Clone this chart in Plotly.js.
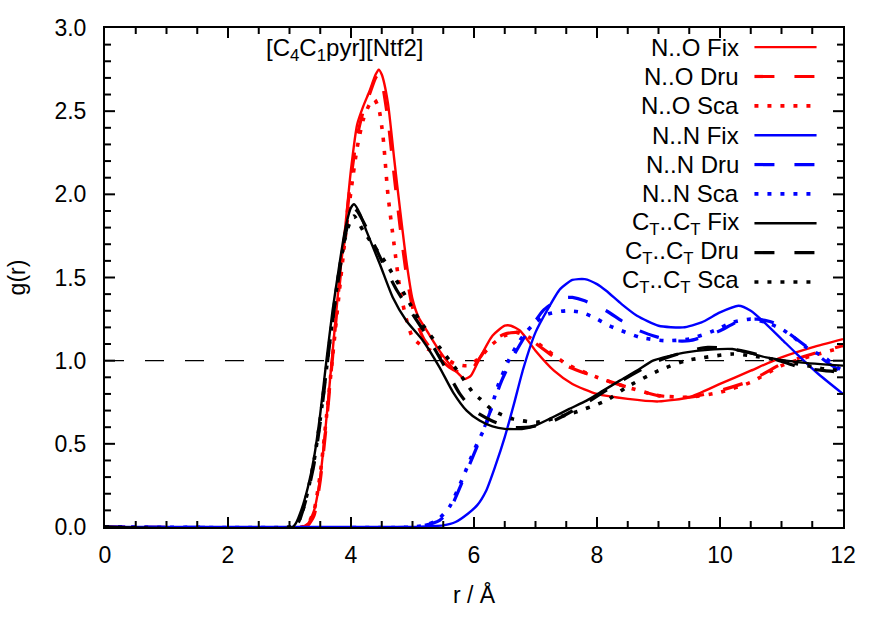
<!DOCTYPE html>
<html>
<head>
<meta charset="utf-8">
<script src="https://cdn.plot.ly/plotly-3.0.1.min.js"></script>
<style>
  html, body { margin: 0; padding: 0; background: #fff; }
  #chart { width: 886px; height: 620px; }
</style>
</head>
<body>
<div id="chart"></div>
<script>
// Radial distribution functions g(r) for [C4C1pyr][Ntf2], three models each.

// N..O pairs
const r_NO_fix = [0, 3.2, 3.3, 3.4, 3.5, 3.6, 3.7, 3.8, 3.9, 4.0, 4.1, 4.2, 4.3, 4.4, 4.45, 4.5, 4.6, 4.7, 4.8, 4.9, 5.0, 5.1, 5.2, 5.4, 5.6, 5.75, 5.85, 5.95, 6.1, 6.3, 6.5, 6.6, 6.75, 7.0, 7.3, 7.6, 8.0, 8.5, 9.0, 9.5, 10.0, 10.5, 11.0, 11.5, 12.0];
const g_NO_fix = [0, 0, 0.02, 0.1, 0.3, 0.65, 1.05, 1.45, 1.78, 2.15, 2.42, 2.53, 2.62, 2.72, 2.75, 2.72, 2.55, 2.22, 1.9, 1.6, 1.37, 1.26, 1.2, 1.08, 0.98, 0.92, 0.89, 0.91, 1.02, 1.15, 1.21, 1.21, 1.18, 1.06, 0.94, 0.86, 0.8, 0.77, 0.755, 0.78, 0.86, 0.94, 1.02, 1.08, 1.13];

const r_NO_dru = [0, 3.2, 3.3, 3.4, 3.5, 3.6, 3.7, 3.8, 3.9, 4.0, 4.1, 4.2, 4.3, 4.4, 4.45, 4.5, 4.6, 4.7, 4.8, 4.9, 5.0, 5.1, 5.2, 5.4, 5.6, 5.75, 5.85, 5.95, 6.1, 6.3, 6.5, 6.7, 6.9, 7.2, 7.5, 8.0, 8.5, 9.0, 9.5, 10.0, 10.5, 11.0, 11.5, 12.0];
const g_NO_dru = [0, 0, 0.01, 0.07, 0.28, 0.62, 1.02, 1.42, 1.76, 2.1, 2.35, 2.5, 2.6, 2.7, 2.72, 2.68, 2.45, 2.12, 1.8, 1.52, 1.32, 1.2, 1.12, 1.03, 0.96, 0.93, 0.92, 0.94, 1.02, 1.12, 1.16, 1.17, 1.13, 1.05, 0.97, 0.9, 0.84, 0.79, 0.78, 0.82, 0.88, 0.98, 1.04, 1.09];

const r_NO_sca = [0, 3.2, 3.3, 3.4, 3.5, 3.6, 3.7, 3.8, 3.9, 4.0, 4.1, 4.2, 4.3, 4.38, 4.45, 4.52, 4.6, 4.7, 4.8, 4.9, 5.0, 5.15, 5.3, 5.5, 5.7, 5.9, 6.1, 6.3, 6.5, 6.7, 6.9, 7.2, 7.5, 8.0, 8.5, 9.0, 9.5, 10.0, 10.5, 11.0, 11.5, 12.0];
const g_NO_sca = [0, 0, 0.02, 0.1, 0.32, 0.66, 1.02, 1.38, 1.72, 2.02, 2.28, 2.45, 2.54, 2.57, 2.52, 2.35, 2.0, 1.7, 1.42, 1.25, 1.14, 1.09, 1.06, 1.02, 0.98, 0.97, 1.02, 1.1, 1.15, 1.17, 1.14, 1.06, 0.98, 0.9, 0.84, 0.79, 0.78, 0.81, 0.87, 0.97, 1.03, 1.08];

// N..N pairs
const r_NN_fix = [0, 5.0, 5.3, 5.5, 5.7, 5.9, 6.05, 6.2, 6.35, 6.5, 6.65, 6.8, 7.0, 7.2, 7.4, 7.6, 7.8, 8.0, 8.15, 8.4, 8.65, 9.0, 9.4, 9.7, 10.0, 10.3, 10.5, 10.75, 11.0, 11.25, 11.6, 12.0];
const g_NN_fix = [0, 0, 0.005, 0.01, 0.03, 0.08, 0.13, 0.22, 0.37, 0.54, 0.74, 0.95, 1.17, 1.31, 1.43, 1.485, 1.49, 1.46, 1.42, 1.34, 1.27, 1.21, 1.2, 1.23, 1.29, 1.33, 1.3, 1.22, 1.13, 1.04, 0.92, 0.8];

const r_NN_dru = [0, 5.0, 5.2, 5.44, 5.6, 5.82, 6.0, 6.09, 6.2, 6.31, 6.45, 6.63, 6.85, 7.0, 7.12, 7.3, 7.5, 7.6, 7.8, 8.15, 8.4, 8.69, 9.0, 9.23, 9.5, 9.78, 10.0, 10.32, 10.6, 10.86, 11.1, 11.35, 11.6, 11.78, 12.0];
const g_NN_dru = [0, 0, 0.01, 0.04, 0.1, 0.28, 0.44, 0.52, 0.63, 0.74, 0.88, 1.02, 1.16, 1.24, 1.3, 1.35, 1.38, 1.38, 1.36, 1.3, 1.24, 1.18, 1.14, 1.12, 1.12, 1.15, 1.18, 1.24, 1.25, 1.23, 1.17, 1.1, 1.03, 0.98, 0.93];

const r_NN_sca = [0, 5.0, 5.2, 5.4, 5.6, 5.8, 6.0, 6.2, 6.4, 6.6, 6.8, 7.0, 7.2, 7.5, 7.75, 7.95, 8.2, 8.4, 8.7, 9.1, 9.5, 9.9, 10.2, 10.5, 10.75, 11.0, 11.2, 11.4, 11.7, 11.9, 12.0];
const g_NN_sca = [0, 0, 0.01, 0.04, 0.12, 0.28, 0.46, 0.62, 0.86, 1.03, 1.15, 1.23, 1.28, 1.3, 1.29, 1.26, 1.21, 1.18, 1.14, 1.12, 1.13, 1.18, 1.23, 1.25, 1.23, 1.19, 1.14, 1.08, 1.02, 0.96, 0.94];

// CT..CT pairs
const r_CC_fix = [0, 3.05, 3.1, 3.2, 3.3, 3.4, 3.5, 3.6, 3.7, 3.8, 3.9, 4.0, 4.05, 4.15, 4.25, 4.47, 4.68, 4.9, 5.17, 5.44, 5.66, 5.88, 6.09, 6.3, 6.5, 6.8, 7.0, 7.28, 7.55, 7.83, 8.1, 8.37, 8.65, 8.91, 9.2, 9.45, 9.8, 10.2, 10.75, 11.3, 12.0];
const g_CC_fix = [0, 0, 0.02, 0.11, 0.24, 0.42, 0.68, 1.0, 1.3, 1.55, 1.78, 1.92, 1.94, 1.88, 1.78, 1.58, 1.38, 1.24, 1.12, 0.96, 0.81, 0.7, 0.64, 0.605, 0.59, 0.59, 0.61, 0.66, 0.71, 0.76, 0.82, 0.88, 0.94, 1.0, 1.03, 1.05, 1.065, 1.07, 1.02, 0.99, 0.97];

const r_CC_dru = [0, 3.1, 3.2, 3.3, 3.4, 3.5, 3.6, 3.7, 3.8, 3.9, 4.0, 4.03, 4.1, 4.25, 4.5, 4.75, 5.0, 5.25, 5.5, 5.77, 6.0, 6.28, 6.6, 6.9, 7.3, 7.8, 8.4, 9.0, 9.5, 9.8, 10.2, 10.8, 11.3, 11.7, 12.0];
const g_CC_dru = [0, 0, 0.08, 0.21, 0.38, 0.63, 0.94, 1.24, 1.5, 1.74, 1.9, 1.92, 1.9, 1.8, 1.6, 1.42, 1.28, 1.14, 0.98, 0.8, 0.7, 0.64, 0.6, 0.6, 0.64, 0.74, 0.88, 1.0, 1.06, 1.08, 1.07, 1.02, 0.96, 0.94, 0.93];

const r_CC_sca = [0, 3.1, 3.2, 3.3, 3.4, 3.5, 3.6, 3.7, 3.8, 3.9, 4.0, 4.05, 4.2, 4.58, 4.9, 5.12, 5.44, 5.77, 6.0, 6.1, 6.31, 6.63, 7.02, 7.56, 8.15, 8.48, 9.0, 9.45, 10.2, 10.5, 11.0, 11.7, 12.0];
const g_CC_sca = [0, 0.01, 0.08, 0.22, 0.4, 0.65, 0.95, 1.25, 1.52, 1.73, 1.85, 1.87, 1.78, 1.58, 1.38, 1.24, 1.08, 0.92, 0.8, 0.77, 0.7, 0.65, 0.63, 0.68, 0.76, 0.84, 0.94, 1.0, 1.04, 1.03, 1.0, 0.95, 0.94];

// Reference level g(r) = 1
const r_ref = [0, 12];
const g_ref = [1, 1];

const seriesNames = [
  'N..O Fix', 'N..O Dru', 'N..O Sca',
  'N..N Fix', 'N..N Dru', 'N..N Sca',
  'C<sub>T</sub>..C<sub>T</sub> Fix', 'C<sub>T</sub>..C<sub>T</sub> Dru', 'C<sub>T</sub>..C<sub>T</sub> Sca'
];
const seriesR = [r_NO_fix, r_NO_dru, r_NO_sca, r_NN_fix, r_NN_dru, r_NN_sca, r_CC_fix, r_CC_dru, r_CC_sca];
const seriesG = [g_NO_fix, g_NO_dru, g_NO_sca, g_NN_fix, g_NN_dru, g_NN_sca, g_CC_fix, g_CC_dru, g_CC_sca];

const RED = '#ff0000', BLUE = '#0000ff', BLACK = '#000000';
const colors = [RED, RED, RED, BLUE, BLUE, BLUE, BLACK, BLACK, BLACK];
const styles = [
  { dash: 'solid', width: 2.4 },
  { dash: '20px,20px', width: 3.2 },
  { dash: '4px,9px', width: 3.6 }
];

const traces = [{
  x: r_ref, y: g_ref, mode: 'lines', showlegend: false, hoverinfo: 'skip',
  line: { color: BLACK, width: 1.2, dash: '19px,21px' }
}];
seriesNames.forEach((name, i) => {
  const st = styles[i % 3];
  traces.push({
    x: seriesR[i], y: seriesG[i], name: name, mode: 'lines', showlegend: false,
    line: { color: colors[i], width: st.width, dash: st.dash, shape: 'spline', smoothing: 0.6 }
  });
});

// Axis ranges and tick spacing
const X_RANGE = [0, 12], Y_RANGE = [0, 3];
const X_MAJOR = 2, X_MINOR = 0.5, Y_MAJOR = 0.5, Y_MINOR = 0.1;
const PLOT_W = 886 - 105 - 43, PLOT_H = 620 - 28 - 93;
const MAJOR_LEN = 10, MINOR_LEN = 6;

// Key drawn at the top right of the plot: right-aligned label, sample line after it
const FONT = 'Liberation Sans, Arial, Helvetica, sans-serif';
const keyTop = 2.885, keyStep = 0.1765;
const keyTextX = 10.34, keyLineX0 = 10.56, keyLineX1 = 11.57;
const annotations = [{
  x: 3.9, y: 2.87, xref: 'x', yref: 'y', showarrow: false,
  text: '[C<sub>4</sub>C<sub>1</sub>pyr][Ntf2]', font: { family: FONT, size: 24, color: '#000' },
  xanchor: 'center', yanchor: 'middle'
}];
const shapes = [];
seriesNames.forEach((name, i) => {
  const yk = keyTop - i * keyStep;
  const st = styles[i % 3];
  annotations.push({
    x: keyTextX, y: yk, xref: 'x', yref: 'y', showarrow: false, text: name,
    font: { family: FONT, size: 24, color: '#000' }, xanchor: 'right', yanchor: 'middle'
  });
  shapes.push({
    type: 'line', xref: 'x', yref: 'y', x0: keyLineX0, x1: keyLineX1, y0: yk, y1: yk,
    line: { color: colors[i], width: st.width, dash: st.dash }
  });
});

// Inward tick marks on all four sides of the frame
const tickLine = { color: '#000000', width: 2 };
const nx = Math.round((X_RANGE[1] - X_RANGE[0]) / X_MINOR);
for (let k = 1; k < nx; k++) {
  const v = X_RANGE[0] + k * X_MINOR;
  const isMajor = Math.abs(v / X_MAJOR - Math.round(v / X_MAJOR)) < 1e-6;
  const len = (isMajor ? MAJOR_LEN : MINOR_LEN) / PLOT_H;
  shapes.push({ type: 'line', xref: 'x', yref: 'paper', x0: v, x1: v, y0: 0, y1: len, line: tickLine, layer: 'above' });
  shapes.push({ type: 'line', xref: 'x', yref: 'paper', x0: v, x1: v, y0: 1, y1: 1 - len, line: tickLine, layer: 'above' });
}
const ny = Math.round((Y_RANGE[1] - Y_RANGE[0]) / Y_MINOR);
for (let k = 1; k < ny; k++) {
  const v = Y_RANGE[0] + k * Y_MINOR;
  const isMajor = Math.abs(v / Y_MAJOR - Math.round(v / Y_MAJOR)) < 1e-6;
  const len = (isMajor ? MAJOR_LEN : MINOR_LEN) / PLOT_W;
  shapes.push({ type: 'line', xref: 'paper', yref: 'y', x0: 0, x1: len, y0: v, y1: v, line: tickLine, layer: 'above' });
  shapes.push({ type: 'line', xref: 'paper', yref: 'y', x0: 1, x1: 1 - len, y0: v, y1: v, line: tickLine, layer: 'above' });
}

const layout = {
  width: 886, height: 620,
  margin: { l: 105, r: 43, t: 28, b: 93, pad: 0 },
  paper_bgcolor: '#fff', plot_bgcolor: '#fff',
  font: { family: FONT, size: 23, color: '#000' },
  showlegend: false,
  xaxis: {
    range: X_RANGE, dtick: X_MAJOR, tick0: 0,
    showgrid: false, zeroline: false,
    showline: true, linecolor: '#000', linewidth: 2, mirror: true,
    ticks: '', tickfont: { family: FONT, size: 23 },
    ticklabelstandoff: 6,
    title: { text: 'r / Å', font: { family: FONT, size: 23 }, standoff: 20 }
  },
  yaxis: {
    range: Y_RANGE, dtick: Y_MAJOR, tick0: 0, tickformat: '.1f',
    showgrid: false, zeroline: false,
    showline: true, linecolor: '#000', linewidth: 2, mirror: true,
    ticks: '', tickfont: { family: FONT, size: 23 },
    ticklabelstandoff: 12,
    title: { text: 'g(r)', font: { family: FONT, size: 23 }, standoff: 22 }
  },
  annotations: annotations,
  shapes: shapes
};

Plotly.newPlot('chart', traces, layout, { staticPlot: true, displayModeBar: false });
</script>
</body>
</html>
